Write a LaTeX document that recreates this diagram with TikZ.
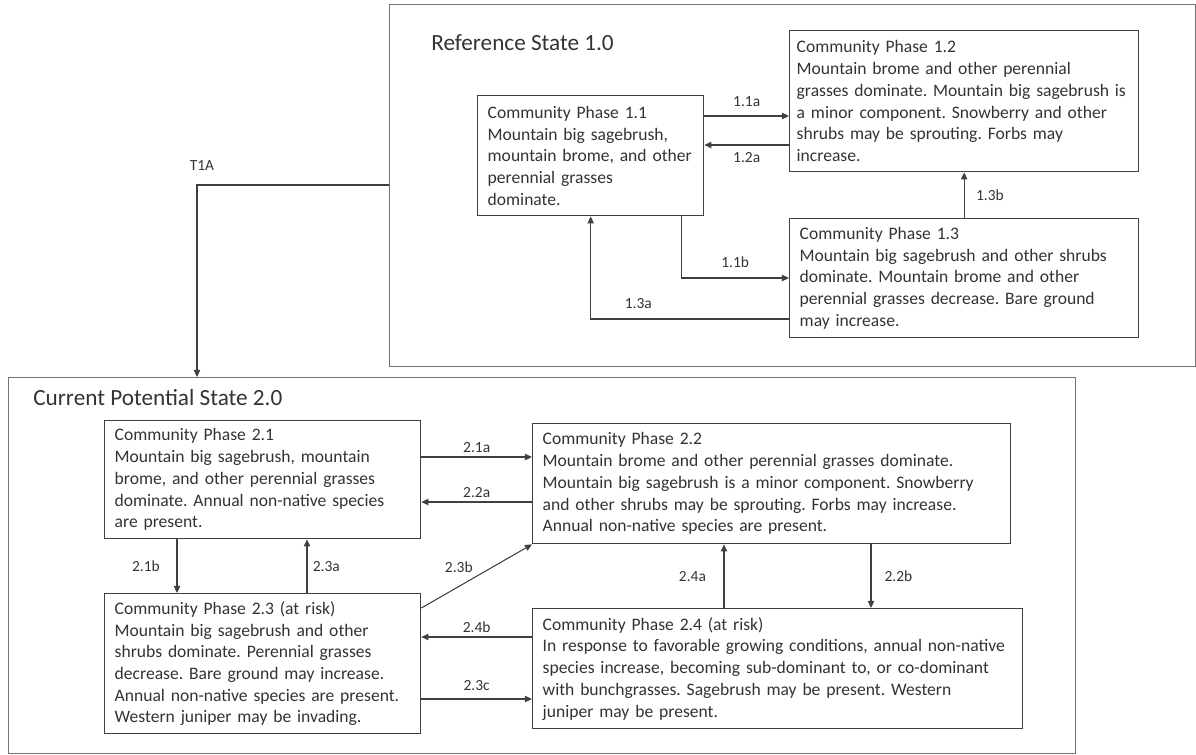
\documentclass[tikz,border=0pt]{standalone}
\usepackage{fontspec}
\setmainfont{Carlito}
\frenchspacing
\usetikzlibrary{calc,arrows.meta}

\begin{document}
\begin{tikzpicture}[
  x=0.02cm,y=-0.02cm,
  >={Triangle[length=4pt,width=3.6pt]},
  state/.style={draw=black!55,line width=0.7pt,anchor=north west,inner sep=0pt},
  phase/.style={draw=black!75,line width=0.8pt,anchor=north west,align=left,
    inner xsep=0.2cm,inner ysep=0pt,text=black!80,font=\fontsize{10}{12.35}\selectfont},
  title/.style={anchor=west,inner sep=0pt,text=black!80,font=\fontsize{13.2}{16}\selectfont},
  arr/.style={draw=black!75,line width=0.6pt,->},
  lbl/.style={text=black!80,inner sep=2pt,font=\fontsize{8.8}{10}\selectfont}
]
\useasboundingbox (0,0) rectangle (1196,754);

\node[state,minimum width=16.12cm,minimum height=7.24cm] (s1) at (389,4) {};
\node[state,minimum width=21.34cm,minimum height=7.52cm] (s2) at (8,377) {};
\node[title] (t1) at ($(s1.north west)+(42,39)$) {Reference State 1.0};
\node[title] (t2) at ($(s2.north west)+(25,21)$) {Current Potential State 2.0};

% reference state
\node[phase,text width=4.12cm,minimum height=2.4cm] (p11) at (477,95)
  {Community Phase 1.1\\Mountain big sagebrush,\\mountain brome, and other\\perennial grasses\\dominate.};
\node[phase,inner xsep=0.14cm,text width=6.7cm,minimum height=2.82cm] (p12) at (789,30)
  {Community Phase 1.2\\Mountain brome and other perennial\\grasses dominate. Mountain big sagebrush is\\a minor component. Snowberry and other\\shrubs may be sprouting. Forbs may\\increase.};
\node[phase,text width=6.58cm,minimum height=2.38cm] (p13) at (789,218)
  {Community Phase 1.3\\Mountain big sagebrush and other shrubs\\dominate. Mountain brome and other\\perennial grasses decrease. Bare ground\\may increase.};

% current potential state
\node[phase,text width=5.92cm,minimum height=2.36cm] (p21) at (104,420)
  {Community Phase 2.1\\Mountain big sagebrush, mountain\\brome, and other perennial grasses\\dominate. Annual non-native species\\are present.};
\node[phase,text width=9.16cm,minimum height=2.4cm] (p22) at (532,423)
  {Community Phase 2.2\\Mountain brome and other perennial grasses dominate.\\Mountain big sagebrush is a minor component. Snowberry\\and other shrubs may be sprouting. Forbs may increase.\\Annual non-native species are present.};
\node[phase,text width=5.92cm,minimum height=2.8cm] (p23) at (104,593)
  {Community Phase 2.3 (at risk)\\Mountain big sagebrush and other\\shrubs dominate. Perennial grasses\\decrease. Bare ground may increase.\\Annual non-native species are present.\\Western juniper may be invading.};
\node[phase,text width=9.4cm,minimum height=2.4cm] (p24) at (532,608)
  {Community Phase 2.4 (at risk)\\In response to favorable growing conditions, annual non-native\\species increase, becoming sub-dominant to, or co-dominant\\with bunchgrasses. Sagebrush may be present. Western\\juniper may be present.};

% transitions
\draw[arr] ($(s1.north west)+(0,181)$) -| node[lbl,above=6pt,xshift=0.1cm,pos=0.5]{T1A} ($(s2.north west)+(189,0)$);

\draw[arr] ($(p11.north east)+(0,21)$) coordinate (a11) -- node[lbl,above=3pt]{1.1a} (a11 -| p12.west);
\draw[arr,<-] ($(p11.north east)+(0,50)$) coordinate (a12) -- node[lbl,below=2pt]{1.2a} (a12 -| p12.west);
\draw[arr] (p13.north) -- node[lbl,right=4.5pt]{1.3b} (p12.south);
\draw[arr] ($(p11.south east)+(-23,0)$) |- node[lbl,above=3.5pt,pos=0.75]{1.1b} ($(p13.north west)+(0,60)$);
\draw[arr] ($(p13.north west)+(0,101)$) -| node[lbl,above=3.5pt,pos=0.38]{1.3a} (p11.south);

\draw[arr] ($(p21.north east)+(0,37)$) coordinate (a21) -- node[lbl,above]{2.1a} (a21 -| p22.west);
\draw[arr,<-] ($(p21.north east)+(0,82)$) coordinate (a22) -- node[lbl,above]{2.2a} (a22 -| p22.west);
\draw[arr] ($(p21.south west)+(73,0)$) coordinate (a21b) -- node[lbl,left=7.5pt]{2.1b} (a21b |- p23.north);
\draw[arr,<-] ($(p21.south west)+(203,0)$) coordinate (a23a) -- node[lbl,right=1pt]{2.3a} (a23a |- p23.north);
\draw[arr] ($(p23.north east)+(0,15)$) -- node[lbl,above left]{2.3b} (p22.south west);
\draw[arr,<-] ($(p22.south west)+(192,0)$) coordinate (a24a) -- node[lbl,left=8pt]{2.4a} (a24a |- p24.north);
\draw[arr] ($(p22.south west)+(339,0)$) coordinate (a22b) -- node[lbl,right=5.4pt]{2.2b} (a22b |- p24.north);
\draw[arr,<-] ($(p23.north east)+(0,44)$) coordinate (a24b) -- node[lbl,above]{2.4b} (a24b -| p24.west);
\draw[arr] ($(p23.north east)+(0,106)$) coordinate (a23c) -- node[lbl,above=2.5pt]{2.3c} (a23c -| p24.west);
\end{tikzpicture}
\end{document}
